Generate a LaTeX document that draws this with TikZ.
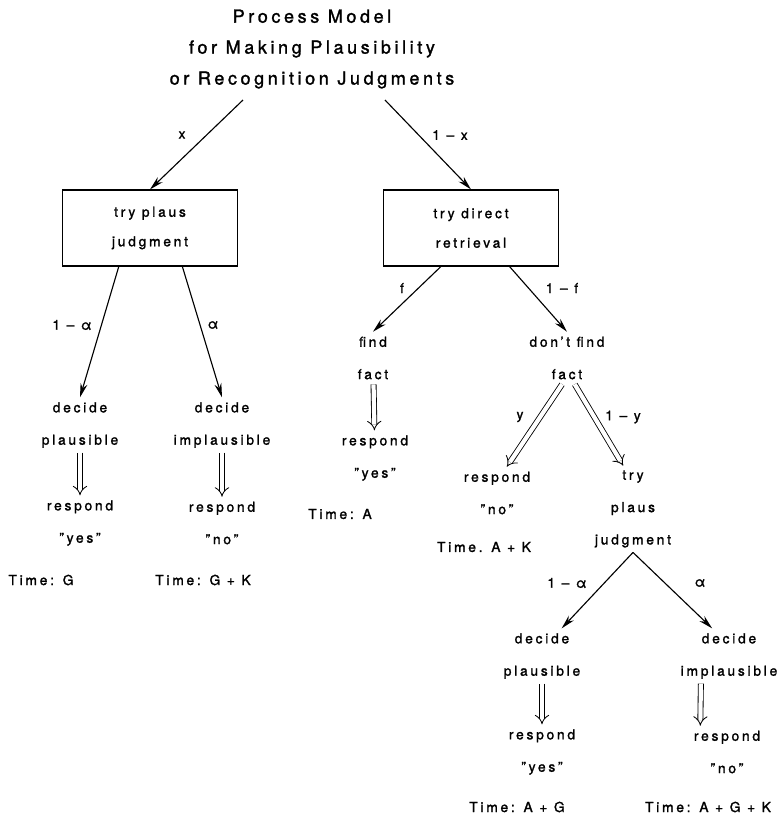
\documentclass[tikz,border=0pt]{standalone}
\usepackage{fontspec}
\setmainfont[LetterSpace=20, FakeBold=1.5]{TeX Gyre Heros}
\usetikzlibrary{arrows.meta}

\begin{document}
\begin{tikzpicture}[x=0.025cm, y=-0.025cm,
  every node/.style={font=\fontsize{9.8}{23}\selectfont, align=center},
  box/.style={draw, thick, minimum width=4.375cm, minimum height=1.9cm, font=\fontsize{9.8}{21}\selectfont},
  arr/.style={thick, -{Stealth[length=10pt, width=5pt]}},
  dbl/.style={semithick, double, double distance=3pt, -{Implies[scale=1.4]}}]
  \useasboundingbox (0,0) rectangle (780,818);

  \node (title) at (312,49) [font=\fontsize{12.8}{22}\selectfont] {Process Model\\for Making Plausibility\\or Recognition Judgments};
  \coordinate (xs) at (243,100);
  \coordinate (ys) at (385,100);

  \node[box] (plaus) at (150,228) {try plaus\\judgment};
  \node[box] (direct) at (471,228) {try direct\\retrieval};
  \draw[arr] (xs) -- (plaus.north);
  \draw[arr] (ys) -- (direct.north);
  \node (lx) at (182,135) {x};
  \node (lnx) at (450,135) {1 – x};

  % plausibility branch
  \node (lp) at (80,425) {decide\\plausible};
  \node (li) at (222,425) {decide\\implausible};
  \draw[arr] (plaus.231) -- (lp.north);
  \draw[arr] (plaus.-50) -- (li.north);
  \node (la1) at (72,325) {1 – α};
  \node (la2) at (213,325) {α};
  \node (lr) at (80,523) {respond\\"yes"};
  \node (ln) at (222,523) {respond\\"no"};
  \draw[dbl] (lp) -- (lr);
  \draw[dbl] (li) -- (ln);
  \node (lt1) at (41,580) {Time: G};
  \node (lt2) at (203,580) {Time: G + K};

  % retrieval branch
  \node (ft) at (373,358) {find\\fact};
  \node (dn) at (567,358) {don't find\\fact};
  \draw[arr] (direct.232) -- (ft.north);
  \draw[arr] (direct.-45) -- (dn.north);
  \node (lf) at (402,288) {f};
  \node (lnf) at (562,288) {1 – f};
  \node (fy) at (375,458) {respond\\"yes"};
  \draw[dbl] (ft) -- (fy);
  \node (ft3) at (340,514) {Time: A};

  \node (dr) at (497,493) {respond\\"no"};
  \node (dt) at (484,547) {Time. A + K};
  \node (tp) at (633,509) {try\\plaus\\judgment};
  \draw[dbl] ([xshift=-3.5pt]dn.south) -- ([xshift=7pt]dr.north);
  \draw[dbl] ([xshift=5.5pt]dn.south) -- ([xshift=-7pt]tp.north);
  \node (ly) at (520,417) {y};
  \node (lny) at (623,417) {1 – y};

  % second plausibility judgment
  \node (bp) at (542,656) {decide\\plausible};
  \node (bi) at (729,656) {decide\\implausible};
  \draw[arr] (tp.south) -- ([xshift=14pt]bp.north);
  \draw[arr] (tp.south) -- ([xshift=-12pt]bi.north);
  \node (la3) at (567,583) {1 – α};
  \node (la4) at (700,583) {α};
  \node (by) at (542,752) {respond\\"yes"};
  \node (bn) at (727,752) {respond\\"no"};
  \draw[dbl] (bp) -- (by);
  \draw[dbl] ([xshift=-20pt]bi.south) -- ([xshift=-19pt]bn.north);
  \node (bt1) at (517,807) {Time: A + G};
  \node (bt2) at (708,807) {Time: A + G + K};
\end{tikzpicture}
\end{document}
